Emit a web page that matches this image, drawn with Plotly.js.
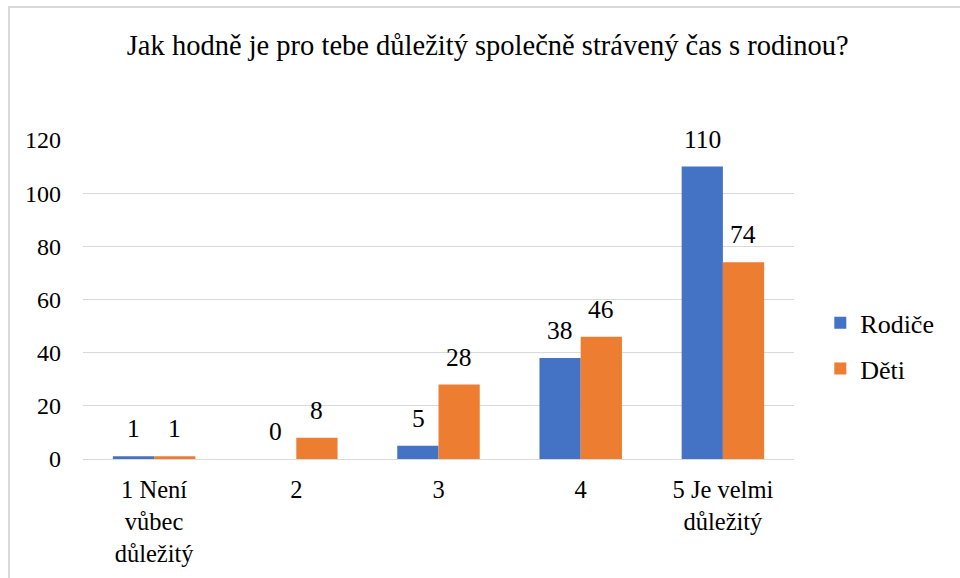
<!DOCTYPE html>
<html>
<head>
<meta charset="utf-8">
<script src="https://cdn.plot.ly/plotly-3.0.1.min.js"></script>
<style>
html,body{margin:0;padding:0;background:#fff;}
#wrap{position:relative;width:960px;height:578px;overflow:hidden;}
#frame{position:absolute;left:8px;top:6px;width:970px;height:600px;border-left:2px solid #d9d9d9;border-top:2px solid #d9d9d9;box-sizing:border-box;pointer-events:none;}
#chart{position:absolute;left:0;top:0;width:960px;height:578px;}
</style>
</head>
<body>
<div id="wrap"><div id="chart"></div><div id="frame"></div></div>
<script>
const categories = ["1 Není<br>vůbec<br>důležitý", "2", "3", "4", "5 Je velmi<br>důležitý"];
const rodice = [1, 0, 5, 38, 110];
const deti = [1, 8, 28, 46, 74];
const yTicks = [0, 20, 40, 60, 80, 100, 120];

const font = "'Liberation Serif', 'Times New Roman', serif";

const traces = [
  {type: "bar", name: "Rodiče", x: categories, y: rodice, legendgroup: "a",
   marker: {color: "#4472C4"}, hoverinfo: "none"},
  {type: "bar", name: "Děti", x: categories, y: deti, legendgroup: "b",
   marker: {color: "#ED7D31"}, hoverinfo: "none"}
];

const annotations = [];
[[rodice, -20.5], [deti, 20.5]].forEach(([vals, dx]) => {
  vals.forEach((v, i) => {
    annotations.push({x: i, y: v, xref: "x", yref: "y", text: String(v), showarrow: false,
      xshift: dx, yshift: 11, yanchor: "bottom", font: {family: font, size: 25.5, color: "#000"}});
  });
});

const layout = {
  width: 960, height: 578,
  margin: {l: 83, r: 166, t: 140, b: 119},
  paper_bgcolor: "#fff", plot_bgcolor: "#fff",
  font: {family: font, size: 24, color: "#000"},
  title: {text: "Jak hodně je pro tebe důležitý společně strávený čas s rodinou?",
          font: {family: font, size: 28.5, color: "#000"}, x: 0.508, xanchor: "center", y: 0.922, yanchor: "middle"},
  barmode: "group", bargap: 0.42, bargroupgap: 0,
  annotations: annotations,
  xaxis: {type: "category", showgrid: false, showline: true, linecolor: "#d9d9d9", linewidth: 1,
          ticks: "", tickfont: {family: font, size: 24.5, color: "#000"}, ticklabelstandoff: 9, fixedrange: true},
  yaxis: {range: [0, 120], tickvals: yTicks, showgrid: true, gridcolor: "#d9d9d9", gridwidth: 1,
          zeroline: true, zerolinecolor: "#d9d9d9", showline: false, ticks: "",
          tickfont: {family: font, size: 24, color: "#000"}, ticklabelstandoff: 21, fixedrange: true},
  legend: {x: 1.037, xanchor: "left", y: 0.355, yanchor: "middle", font: {family: font, size: 26, color: "#000"},
           traceorder: "grouped", itemwidth: 30, tracegroupgap: 9, bgcolor: "rgba(0,0,0,0)"},
  showlegend: true
};

Plotly.newPlot("chart", traces, layout, {displayModeBar: false, staticPlot: true});
</script>
</body>
</html>
